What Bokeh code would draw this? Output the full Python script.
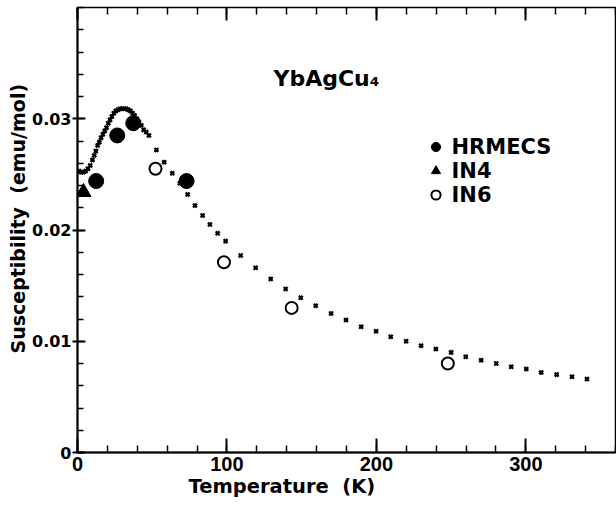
from bokeh.plotting import figure
from bokeh.models import (Range1d, FixedTicker, LinearAxis, Label, Legend, LegendItem, Title)
from bokeh.embed import file_html
from bokeh.resources import INLINE

# ---------------- data ----------------
# magnetic susceptibility curve (small x marks)
curve_T = [1, 2.5, 4, 5.5, 7, 8.5, 10, 11.2, 12.3, 13.5, 14.6, 15.8, 17, 18.2, 19.4,
           20.6, 21.8, 23, 24.3, 25.6, 27, 28.4, 29.8, 31.2, 32.6, 34, 35.4, 36.8,
           38.2, 39.6, 41.1, 42.7, 44.3, 46, 47.8, 52.8, 58, 63.4, 68.5, 73.7, 78.6,
           83.7, 88.6, 93.8, 99.1, 109.2, 119.2, 129.3, 139.3, 149.4, 159.4, 169.7,
           179.7, 189.8, 199.8, 209.6, 219.9, 229.9, 239.8, 250, 259.8, 270.1, 280.2,
           290.2, 300.3, 310.3, 320.6, 330.9, 340.9]
curve_chi = [0.0253, 0.0252, 0.0252, 0.0253, 0.0255, 0.0258, 0.0263, 0.0267, 0.0271,
             0.0276, 0.0279, 0.0283, 0.0286, 0.0289, 0.0292, 0.0296, 0.0299, 0.0302,
             0.0305, 0.0307, 0.0308, 0.0309, 0.0309, 0.0309, 0.0309, 0.0308, 0.0307,
             0.0305, 0.0303, 0.0300, 0.0297, 0.0294, 0.0290, 0.0288, 0.0285, 0.0272,
             0.0261, 0.0251, 0.0242, 0.0232, 0.0222, 0.0213, 0.0205, 0.0197, 0.0190,
             0.0177, 0.0166, 0.0156, 0.0147, 0.0139, 0.0132, 0.0125, 0.0119, 0.0113,
             0.0109, 0.0104, 0.0100, 0.0096, 0.0093, 0.0090, 0.0086, 0.0083, 0.0080,
             0.0077, 0.0075, 0.0072, 0.0070, 0.0068, 0.0066]

hrmecs_T = [12.5, 26.6, 37.3, 73.0]
hrmecs_chi = [0.0244, 0.0285, 0.0296, 0.0244]

in4_T = [4.0]
in4_chi = [0.0234]

in6_T = [52.2, 98.0, 143.3, 247.8]
in6_chi = [0.0255, 0.0171, 0.0130, 0.0080]

x_major = [0, 100, 200, 300]
x_minor = list(range(0, 361, 20))
y_major = [0, 0.01, 0.02, 0.03]
y_minor = [round(i * 0.002, 3) for i in range(0, 21)]

title_text = "YbAgCu\u2084"
x_title = "Temperature \u00a0(K)"
y_title = "Susceptibility \u00a0(emu/mol)"

# ---------------- figure ----------------
p = figure(width=616, height=505, x_range=Range1d(0, 360), y_range=Range1d(0, 0.04),
           output_backend="svg", toolbar_location=None,
           min_border_left=77, min_border_right=1, min_border_top=7, min_border_bottom=53)
p.xgrid.visible = False
p.ygrid.visible = False
p.outline_line_color = "black"
p.outline_line_width = 1.5
p.background_fill_color = "white"
p.border_fill_color = "white"

xa = p.xaxis[0]
xa.ticker = FixedTicker(ticks=x_major, minor_ticks=x_minor)
xa.axis_line_width = 2
xa.major_tick_in = 14
xa.major_tick_out = 0
xa.minor_tick_in = 7
xa.minor_tick_out = 0
xa.major_tick_line_width = 2
xa.minor_tick_line_width = 1.5
xa.major_label_text_font = "Liberation Sans"
xa.major_label_text_font_style = "bold"
xa.major_label_text_font_size = "20px"
xa.major_label_text_color = "black"
xa.major_label_standoff = 4

ya = p.yaxis[0]
ya.ticker = FixedTicker(ticks=y_major, minor_ticks=y_minor)
ya.axis_line_width = 2
ya.major_tick_in = 8
ya.major_tick_out = 5
ya.minor_tick_in = 6
ya.minor_tick_out = 0
ya.major_tick_line_width = 2
ya.minor_tick_line_width = 1.5
ya.major_label_text_font = "DejaVu Sans"
ya.major_label_text_font_style = "bold"
ya.major_label_text_font_size = "16px"
ya.major_label_text_color = "black"
ya.major_label_standoff = 1
ya.major_label_overrides = {0: "0"}

top = LinearAxis(ticker=FixedTicker(ticks=x_major, minor_ticks=x_minor))
top.axis_line_color = None
top.major_tick_in = 13
top.major_tick_out = 0
top.minor_tick_in = 7
top.minor_tick_out = 0
top.major_tick_line_width = 2
top.minor_tick_line_width = 1.5
top.major_label_text_font_size = "1px"
top.major_label_text_color = None
top.major_label_standoff = 0
p.add_layout(top, "above")

# ---------------- data marks ----------------
p.scatter(curve_T, curve_chi, marker="x", size=5.5, line_width=2.3, color="black")
r_h = p.scatter(hrmecs_T, hrmecs_chi, marker="circle", size=15, fill_color="black",
                line_color="black")
r_4 = p.scatter(in4_T, in4_chi, marker="triangle", size=15, fill_color="black",
                line_color="black")
r_6 = p.scatter(in6_T, in6_chi, marker="circle", size=12, fill_color="white",
                line_color="black", line_width=2)

legend = Legend(items=[LegendItem(label="HRMECS", renderers=[r_h]),
                       LegendItem(label="IN4", renderers=[r_4]),
                       LegendItem(label="IN6", renderers=[r_6])],
                location=(346.5, 245.5))
legend.padding = 0
legend.margin = 0
legend.spacing = 0
legend.glyph_height = 23
legend.glyph_width = 23
legend.label_height = 23
legend.label_standoff = 5
legend.border_line_color = None
legend.background_fill_alpha = 0
legend.label_text_font = "DejaVu Sans"
legend.label_text_font_style = "bold"
legend.label_text_font_size = "21px"
legend.label_text_color = "black"
legend.label_text_baseline = "middle"
p.add_layout(legend, "center")

# ---------------- texts ----------------
p.add_layout(Label(x=196, y=374, x_units="screen", y_units="screen", text=title_text,
                   text_font="DejaVu Sans", text_font_style="bold",
                   text_font_size="22px", text_baseline="alphabetic",
                   text_color="black"))

xt = Title(text=x_title, align="left", offset=111, standoff=0,
           text_font="DejaVu Sans", text_font_style="bold", text_font_size="19.5px",
           text_color="black", vertical_align="middle")
p.add_layout(xt, "below")

yt = Title(text=y_title, align="left", offset=99, standoff=0,
           text_font="DejaVu Sans", text_font_style="bold", text_font_size="19px",
           text_color="black", vertical_align="middle")
p.add_layout(yt, "left")

open("out.html", "w").write(file_html(p, INLINE))
